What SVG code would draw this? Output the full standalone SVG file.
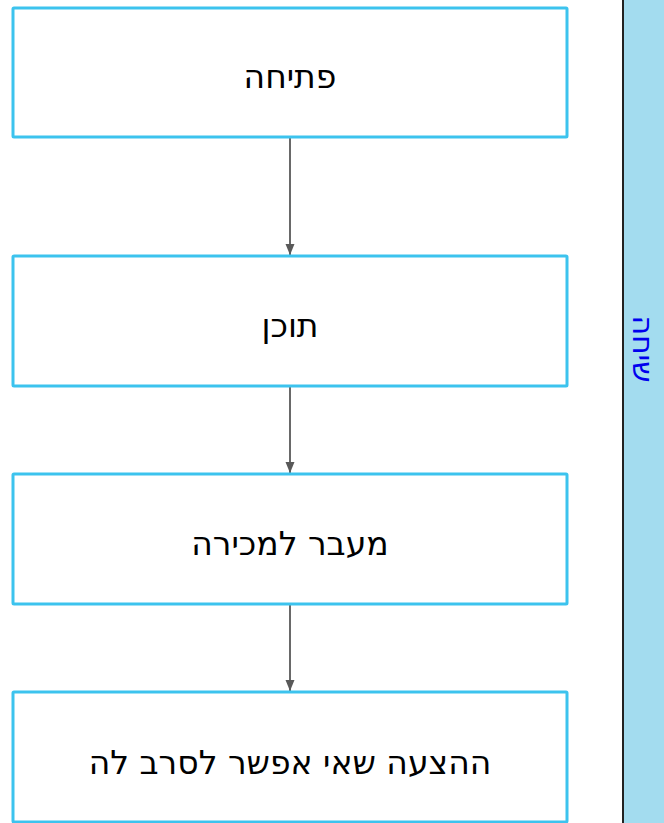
<svg xmlns="http://www.w3.org/2000/svg" width="664" height="823" viewBox="0 0 664 823">
<defs>
<style>
.box{fill:#ffffff;stroke:#3cc3ee;stroke-width:3}
.lbl{font-family:"DejaVu Sans",sans-serif;font-size:33px;fill:#000;text-anchor:middle;direction:rtl}
.edge{stroke:#595959;stroke-width:1.8;fill:none}
</style>
<marker id="ah" markerWidth="12" markerHeight="10" refX="11" refY="5" orient="auto" markerUnits="userSpaceOnUse">
<path d="M0,0.5 L11,5 L0,9.5 Z" fill="#595959"/>
</marker>
</defs>
<rect x="0" y="0" width="664" height="823" fill="#ffffff"/>
<g id="lane">
<rect x="623" y="0" width="41" height="823" fill="#a3dcef"/>
<line x1="623" y1="0" x2="623" y2="823" stroke="#222222" stroke-width="2"/>
<text x="644" y="360" transform="rotate(90 644 349)" font-family="DejaVu Sans,sans-serif" font-size="30" fill="#0000ee" text-anchor="middle" direction="rtl">שיחה</text>
</g>
<g id="connectors">
<line class="edge" x1="290" y1="138" x2="290" y2="255" marker-end="url(#ah)"/>
<line class="edge" x1="290" y1="387" x2="290" y2="473" marker-end="url(#ah)"/>
<line class="edge" x1="290" y1="605" x2="290" y2="691" marker-end="url(#ah)"/>
</g>
<g id="n1"><rect class="box" x="13" y="8" width="554" height="129" rx="1"/><text class="lbl" x="290" y="88">פתיחה</text></g>
<g id="n2"><rect class="box" x="13" y="256" width="554" height="130" rx="1"/><text class="lbl" x="290" y="337">תוכן</text></g>
<g id="n3"><rect class="box" x="13" y="474" width="554" height="130" rx="1"/><text class="lbl" x="290" y="555">מעבר למכירה</text></g>
<g id="n4"><rect class="box" x="13" y="692" width="554" height="130" rx="1"/><text class="lbl" x="290" y="774">ההצעה שאי אפשר לסרב לה</text></g>
</svg>
